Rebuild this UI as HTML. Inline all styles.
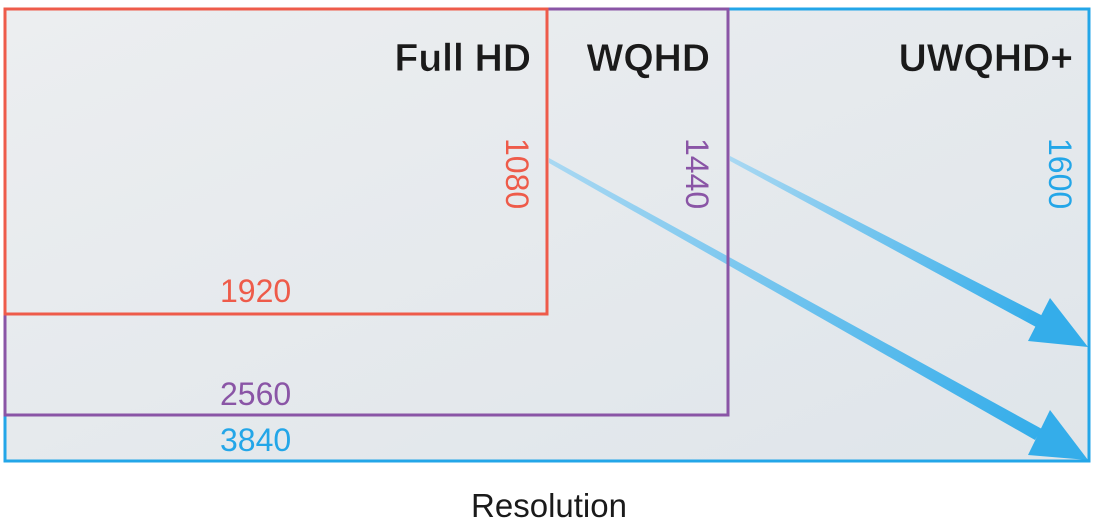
<!DOCTYPE html>
<html><head><meta charset="utf-8"><style>
html,body{margin:0;padding:0;background:#fff;}
svg{display:block;}
text{font-family:"Liberation Sans",Arial,sans-serif;}
</style></head><body>
<svg width="1102" height="524" viewBox="0 0 1102 524" xmlns="http://www.w3.org/2000/svg">
<defs>
<linearGradient id="bg" x1="0" y1="0" x2="1" y2="1">
<stop offset="0" stop-color="#eceef0"/><stop offset="1" stop-color="#dfe5ea"/>
</linearGradient>
<linearGradient id="a1" gradientUnits="userSpaceOnUse" x1="730" y1="158" x2="1040" y2="322">
<stop offset="0" stop-color="#a9d8f2"/><stop offset="1" stop-color="#34adea"/>
</linearGradient>
<linearGradient id="a2" gradientUnits="userSpaceOnUse" x1="549" y1="160" x2="1040" y2="435">
<stop offset="0" stop-color="#a9d8f2"/><stop offset="1" stop-color="#34adea"/>
</linearGradient>
</defs>
<rect x="5" y="9" width="1084" height="452" fill="url(#bg)"/>
<polygon points="730,156 730,161 1036,327 1043,316" fill="url(#a1)"/>
<polygon points="1050,298 1028,341 1088,347" fill="#34adea"/>
<polygon points="549,158 549,163 1035,440 1042,429" fill="url(#a2)"/>
<polygon points="1050,410 1028,455 1088,460" fill="#34adea"/>
<rect x="5" y="9" width="1084" height="452" fill="none" stroke="#23a6e8" stroke-width="3"/>
<rect x="5" y="9" width="723" height="406" fill="none" stroke="#8a55a6" stroke-width="3"/>
<rect x="5" y="9" width="542" height="305" fill="none" stroke="#ee5b4a" stroke-width="3"/>
<text x="531" y="71" font-size="39" font-weight="bold" text-anchor="end" fill="#1a1a1a" stroke="#eceef0" stroke-width="0.6">Full HD</text>
<text x="710" y="71" font-size="39" font-weight="bold" text-anchor="end" fill="#1a1a1a" stroke="#eceef0" stroke-width="0.6">WQHD</text>
<text x="1073" y="71" font-size="39" font-weight="bold" text-anchor="end" fill="#1a1a1a" stroke="#e6eaee" stroke-width="0.6">UWQHD+</text>
<text transform="translate(506,138) rotate(90)" font-size="32" fill="#ee5b4a">1080</text>
<text transform="translate(686,138) rotate(90)" font-size="32" fill="#8a55a6">1440</text>
<text transform="translate(1049,138) rotate(90)" font-size="32" fill="#23a6e8">1600</text>
<text x="220" y="302" font-size="32" fill="#ee5b4a">1920</text>
<text x="220" y="405" font-size="32" fill="#8a55a6">2560</text>
<text x="220" y="451" font-size="32" fill="#23a6e8">3840</text>
<text x="549" y="517" font-size="33" text-anchor="middle" fill="#1a1a1a">Resolution</text>
</svg>
</body></html>
